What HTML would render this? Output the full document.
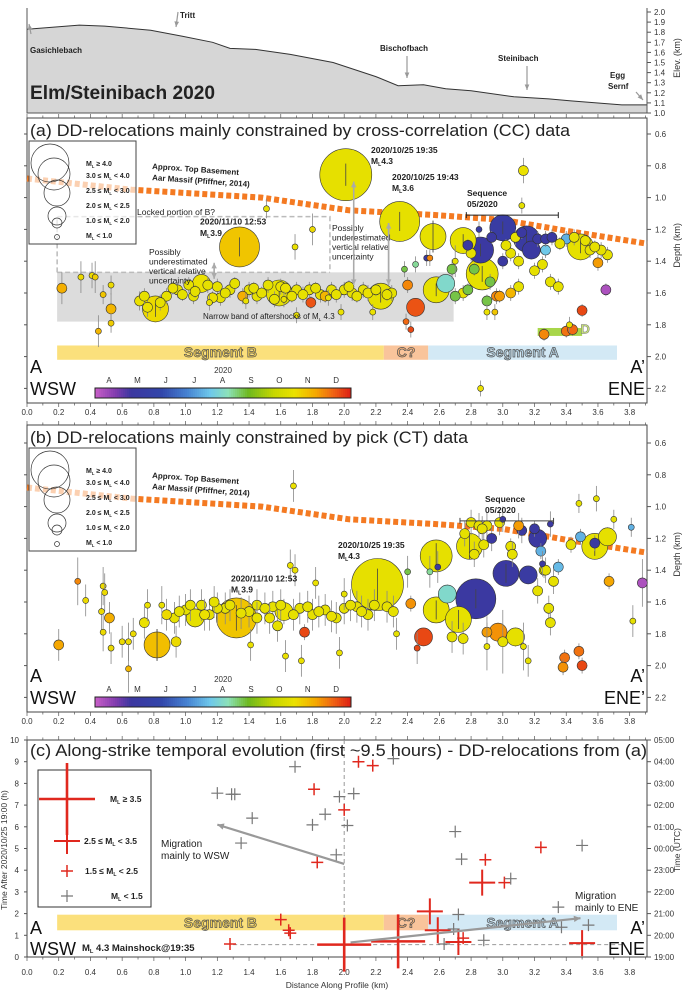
<!DOCTYPE html>
<html><head><meta charset="utf-8"><style>
html,body{margin:0;padding:0;background:#fff;}
svg{display:block;font-family:"Liberation Sans",sans-serif;}
.tk{font-size:8px;fill:#333;}
.lb{font-size:8px;font-weight:bold;fill:#222;}
</style></head><body>
<svg id="fig" width="685" height="991" viewBox="0 0 685 991" xmlns="http://www.w3.org/2000/svg">
<g id="gTop"></g>
<g id="gA"></g>
<g id="gB"></g>
<g id="gC"></g>
</svg>
<script>
// ---------- data ----------
const topoDist = [0.0,0.33,0.49,0.78,0.98,1.17,1.28,1.44,1.66,1.93,2.20,2.34,2.50,2.64,2.80,3.07,3.29,3.43,3.75,3.91];
const topoElev = [1.83,1.87,1.86,1.82,1.76,1.70,1.64,1.63,1.58,1.50,1.36,1.27,1.28,1.24,1.22,1.16,1.14,1.12,1.08,1.08];
const basementDist = [0.0,0.66,1.48,2.03,2.58,3.0,3.41,3.91];
const basementDepth = [0.88,0.95,1.0,1.08,1.11,1.14,1.21,1.29];

const aDist = [2.01,1.34,2.35,2.56,2.58,2.64,2.87,3.00,2.86,3.15,3.18,0.81,1.59,2.23,1.10,3.49,2.75,2.45,1.79,0.22,0.53,3.50,3.65,3.26,3.40,3.44,3.13,3.12,1.51,1.80,1.69,0.34,0.41,0.43,0.45,0.48,0.53,0.53,0.71,0.76,0.88,0.95,1.02,1.20,1.28,1.40,1.45,1.52,1.60,1.70,1.78,1.85,1.92,2.00,2.05,2.12,2.30,1.70,1.98,2.18,1.22,1.05,2.39,2.42,2.40,2.38,2.45,2.52,2.54,2.70,2.85,2.80,2.92,2.96,3.05,3.10,2.95,3.30,3.35,3.25,3.20,3.27,3.40,3.55,3.60,3.45,3.05,3.22,3.27,3.31,2.86,3.42,2.90,2.75,2.70,3.08,3.00,3.10,3.66,3.62,
  0.74,0.84,0.92,0.98,1.06,1.14,1.17,1.25,1.31,1.36,1.43,1.48,1.56,1.63,1.67,1.74,1.82,1.88,1.95,2.03,2.08,2.15,2.20,2.27,1.15,1.38,1.62,1.90,2.78,2.82,2.93,3.02,3.12,2.68,2.78,3.36,3.52,3.58,2.98,2.90];
const aDepth = [0.856,1.31,1.15,1.245,1.58,1.54,1.48,1.19,1.33,1.26,1.33,1.70,1.60,1.62,1.54,1.31,1.27,1.69,1.66,1.57,1.70,1.71,1.58,1.86,1.84,1.83,0.83,1.05,1.07,1.20,1.31,1.50,1.49,1.50,1.84,1.61,1.79,1.55,1.65,1.69,1.62,1.58,1.55,1.56,1.58,1.58,1.62,1.55,1.56,1.58,1.58,1.61,1.58,1.58,1.60,1.58,1.60,1.74,1.72,1.72,1.63,1.62,1.78,1.83,1.55,1.45,1.42,1.38,1.38,1.40,1.20,1.35,1.53,1.62,1.60,1.56,1.72,1.53,1.56,1.42,1.46,1.33,1.26,1.33,1.41,1.25,1.35,1.26,1.26,1.25,2.20,1.80,1.72,1.60,1.62,1.25,1.40,1.40,1.36,1.33,
  1.62,1.66,1.57,1.61,1.59,1.55,1.63,1.60,1.54,1.62,1.57,1.60,1.64,1.57,1.62,1.61,1.57,1.62,1.61,1.56,1.62,1.60,1.58,1.61,1.66,1.65,1.64,1.63,1.30,1.45,1.25,1.30,1.22,1.45,1.58,1.29,1.27,1.31,1.62,1.65];
const aMag = [4.3,3.9,3.6,2.7,2.7,2.2,3.2,2.7,2.7,2.6,2.2,2.7,2.7,2.7,2.3,2.7,2.6,2.2,1.5,1.5,1.5,1.5,1.5,1.5,1.3,1.3,1.3,0.8,0.8,0.8,0.8,0.8,0.8,0.8,0.8,0.8,0.8,0.8,1.2,1.2,1.2,1.2,1.4,1.4,1.4,1.3,1.4,1.2,1.3,1.4,1.2,1.3,1.4,1.2,1.3,1.2,1.4,0.8,0.8,0.8,1.4,1.2,0.8,0.8,1.4,0.8,0.8,0.8,0.8,0.8,0.8,1.3,1.5,1.8,1.5,1.5,0.8,1.3,1.3,1.5,1.4,1.4,1.3,1.4,1.5,1.3,1.3,1.3,1.3,1.2,0.8,0.8,0.8,1.5,1.3,1.5,1.5,1.3,1.3,1.3,
  1.2,1.3,1.2,1.3,1.4,1.2,1.3,1.3,1.2,1.4,1.3,1.2,1.3,1.4,1.2,1.3,1.2,1.3,1.2,1.3,1.4,1.2,1.3,1.2,0.8,0.8,0.8,0.8,1.4,1.4,1.3,1.3,1.4,1.3,1.3,1.4,1.3,1.4,1.4,1.3];
const aMonth = [10.8,11.3,10.8,10.8,10.8,8.2,10.8,5.2,5.0,5.1,5.0,11.0,10.8,10.8,10.9,10.8,10.8,12.5,12.5,11.6,11.5,12.6,3.8,12.0,12.2,12.3,10.9,10.8,10.8,11.0,10.9,11.0,11.0,11.2,11.5,11.3,11.2,11.0,10.9,10.9,10.8,10.8,10.8,10.8,10.8,10.8,10.8,10.8,10.9,10.8,10.8,10.8,10.8,10.8,10.8,10.8,10.8,10.9,10.9,10.9,10.8,10.8,12.3,12.6,12.0,9.0,8.6,5.0,12.0,10.8,5.2,10.8,9.0,12.0,11.5,10.8,11.3,10.8,10.8,10.8,10.8,7.8,7.5,10.8,11.8,10.8,10.8,5.0,5.0,5.0,10.9,10.9,10.9,10.8,9.0,10.8,5.0,10.8,10.8,10.8,
  10.8,10.8,10.9,10.8,10.8,10.8,10.9,10.8,10.8,11.6,10.8,10.8,10.8,10.9,10.8,10.8,10.8,11.5,10.8,10.8,10.8,10.9,10.8,10.8,10.9,10.9,10.9,10.9,5.0,9.0,5.0,10.8,5.0,9.0,9.0,10.8,10.8,10.8,11.8,9.0];
const aErr = [0.07,0.06,0.06,0.1,0.04,0.04,0.05,0.04,0.04,0.04,0.04,0.05,0.04,0.04,0.04,0.04,0.04,0.04,0.04,0.1,0.1,0.04,0.04,0.04,0.04,0.04,0.08,0.05,0.06,0.1,0.08,0.1,0.08,0.1,0.1,0.06,0.06,0.06,0.06,0.06,0.05,0.05,0.05,0.05,0.05,0.05,0.05,0.05,0.05,0.05,0.05,0.05,0.05,0.05,0.05,0.05,0.05,0.05,0.05,0.05,0.05,0.05,0.05,0.05,0.05,0.05,0.05,0.05,0.05,0.1,0.05,0.05,0.05,0.05,0.05,0.05,0.05,0.05,0.05,0.05,0.05,0.05,0.05,0.05,0.05,0.05,0.05,0.05,0.05,0.05,0.05,0.05,0.05,0.05,0.05,0.05,0.05,0.05,0.05,0.05,
  0.05,0.05,0.04,0.04,0.04,0.05,0.04,0.04,0.04,0.05,0.04,0.04,0.05,0.04,0.04,0.05,0.04,0.04,0.05,0.04,0.04,0.05,0.04,0.04,0.05,0.05,0.05,0.05,0.04,0.04,0.04,0.04,0.04,0.06,0.04,0.04,0.04,0.04,0.04,0.04];

const bDist = [2.21,1.32,2.83,3.02,3.16,2.58,2.79,2.58,2.72,3.58,3.22,1.62,0.82,1.06,2.97,3.08,2.50,2.65,3.66,3.49,3.58,3.05,3.20,3.24,3.26,3.35,3.43,0.20,0.52,1.75,2.42,3.39,3.38,3.50,3.48,3.88,3.67,1.68,0.32,0.37,0.48,0.49,0.47,0.48,0.53,0.60,0.64,0.64,0.67,0.74,0.76,0.85,0.93,0.94,1.00,1.10,1.15,1.25,1.40,1.45,1.55,1.58,1.72,1.80,1.88,1.95,2.00,2.08,2.15,2.27,1.66,1.69,1.82,1.63,1.73,1.97,1.41,2.00,2.40,2.33,2.46,2.54,2.59,2.80,2.85,2.90,2.98,3.00,3.12,3.10,2.87,3.30,3.25,3.27,3.32,3.22,3.29,3.30,3.16,3.00,2.90,3.13,3.81,3.82,3.48,3.59,3.70,2.90,2.75,2.68,
  0.96,1.03,1.12,1.20,1.28,1.35,1.50,1.53,1.60,1.68,1.77,1.84,1.92,2.04,2.11,2.19,2.31,0.88,1.18,1.45,2.88,2.93,3.06,2.76,2.82];
const bDepth = [1.49,1.70,1.58,1.42,1.43,1.31,1.25,1.65,1.71,1.25,1.20,1.66,1.87,1.70,1.79,1.82,1.82,1.55,1.19,1.19,1.23,1.25,1.14,1.28,1.40,1.38,1.24,1.87,1.70,1.79,1.61,1.95,2.01,2.00,1.91,1.48,1.47,0.87,1.47,1.59,1.50,1.54,1.66,1.79,1.89,1.85,1.85,2.02,1.80,1.73,1.62,1.62,1.70,1.85,1.65,1.62,1.68,1.64,1.66,1.62,1.63,1.75,1.64,1.68,1.65,1.70,1.64,1.63,1.68,1.63,1.37,1.40,1.48,1.94,1.97,1.92,1.87,1.55,1.41,1.80,1.89,1.41,1.38,1.10,1.12,1.12,1.10,1.08,1.15,1.12,1.14,1.11,1.36,1.40,1.47,1.53,1.64,1.73,1.97,1.85,1.88,1.88,1.13,1.72,0.98,0.95,1.08,1.79,1.83,1.82,
  1.66,1.62,1.68,1.64,1.62,1.67,1.64,1.70,1.62,1.68,1.63,1.66,1.69,1.62,1.66,1.62,1.66,1.68,1.60,1.70,1.24,1.20,1.30,1.17,1.30];
const bMag = [4.3,3.9,3.5,2.8,2.3,3.2,2.7,2.7,2.7,2.7,2.2,2.3,2.7,2.3,2.2,2.2,2.2,2.0,2.2,1.5,1.5,1.5,1.5,1.5,1.5,1.5,1.5,1.5,1.5,1.5,1.5,1.5,1.5,1.5,1.3,1.5,1.5,0.8,0.8,0.8,0.8,0.8,0.8,0.8,0.8,0.8,0.8,0.8,0.8,1.3,0.8,0.8,1.3,1.3,1.3,1.4,1.4,1.3,1.3,1.4,1.3,1.3,1.4,1.3,1.4,1.3,1.4,1.3,1.3,1.4,0.8,0.8,0.8,0.8,0.8,0.8,0.8,0.8,0.8,0.8,0.8,0.8,0.8,1.3,1.3,1.3,1.3,0.8,1.3,1.3,1.3,0.8,0.8,1.3,1.3,1.3,1.3,1.3,0.8,1.3,0.8,0.8,0.8,0.8,0.8,0.8,0.8,1.5,1.3,1.3,
  1.3,1.2,1.3,1.2,1.3,1.2,1.3,1.2,1.3,1.2,1.3,1.2,1.3,1.2,1.3,1.2,1.3,1.3,1.2,1.2,1.4,1.3,1.3,1.3,1.4];
const bMonth = [10.8,11.3,5.0,5.0,5.1,10.8,10.8,10.8,10.8,10.8,5.0,10.9,11.4,10.8,11.9,10.8,12.6,8.2,10.8,7.5,5.0,10.8,5.0,7.5,10.6,7.6,10.8,11.7,11.6,12.6,11.9,12.2,11.9,12.6,12.2,3.8,11.7,10.9,12.0,11.0,11.0,11.0,11.0,11.0,11.0,11.0,11.0,11.5,11.0,10.9,10.9,10.9,10.8,11.0,10.8,10.8,10.8,10.8,10.8,10.8,10.8,10.8,10.8,10.8,10.8,10.8,10.8,10.8,10.8,10.8,10.9,10.9,10.9,10.9,10.9,10.9,10.9,10.8,9.0,10.8,12.6,8.6,5.0,10.8,10.8,10.8,10.8,5.0,5.0,11.8,10.8,5.0,5.0,10.8,10.8,10.8,10.8,10.8,10.8,10.8,10.8,10.8,7.5,10.8,10.8,10.8,10.8,11.8,10.8,10.8,
  10.8,10.8,10.9,10.8,10.8,10.8,10.8,10.9,10.8,10.8,10.8,10.8,10.9,10.8,10.8,10.8,10.8,11.0,10.8,10.8,10.8,5.0,10.8,10.8,10.8];
const bErr = [0.1,0.08,0.06,0.06,0.05,0.08,0.08,0.06,0.06,0.06,0.05,0.08,0.1,0.06,0.06,0.06,0.05,0.06,0.06,0.05,0.05,0.05,0.05,0.05,0.05,0.05,0.05,0.1,0.1,0.05,0.05,0.05,0.05,0.05,0.05,0.15,0.05,0.1,0.15,0.1,0.12,0.12,0.12,0.12,0.1,0.1,0.12,0.15,0.1,0.1,0.1,0.12,0.1,0.1,0.1,0.1,0.1,0.1,0.1,0.1,0.1,0.1,0.1,0.1,0.1,0.1,0.1,0.1,0.1,0.1,0.1,0.1,0.1,0.1,0.1,0.1,0.1,0.1,0.1,0.1,0.1,0.1,0.1,0.08,0.08,0.08,0.08,0.08,0.08,0.08,0.08,0.08,0.08,0.08,0.08,0.08,0.08,0.08,0.1,0.2,0.15,0.15,0.06,0.1,0.06,0.08,0.06,0.1,0.1,0.1,
  0.1,0.1,0.1,0.1,0.1,0.1,0.1,0.1,0.1,0.1,0.1,0.1,0.1,0.1,0.1,0.1,0.1,0.1,0.1,0.1,0.08,0.08,0.08,0.08,0.08];

const cDist = [2.00,2.34,3.50,2.54,2.59,2.87,2.72,2.75,1.28,1.60,1.65,1.66,1.83,1.81,2.00,2.09,2.18,2.89,3.01,3.24,1.69,1.20,1.29,1.31,1.42,1.35,1.80,1.88,1.97,2.06,2.02,1.95,2.31,2.70,2.74,3.05,3.35,2.72,2.69,2.63,2.88,3.37,3.54,3.50];
const cTime = [0.57,0.72,0.64,2.10,1.23,3.43,0.69,0.87,0.60,1.72,1.23,1.10,4.36,7.73,6.78,9.00,8.82,4.48,3.43,5.05,8.77,7.55,7.50,7.50,6.40,5.25,6.09,6.58,7.39,7.53,6.06,4.71,9.14,5.78,4.51,3.61,2.30,1.96,1.29,0.60,0.77,1.37,1.47,5.14];
const cMag = [4.3,3.6,2.8,2.9,2.7,2.8,2.6,1.8,1.8,1.7,1.9,1.6,1.7,1.8,1.9,1.6,1.7,1.8,1.6,1.7,1.0,1.0,1.0,1.0,1.0,1.0,1.0,1.0,1.0,1.0,1.0,1.0,1.0,1.0,1.0,1.0,1.0,1.0,1.0,1.0,1.0,1.0,1.0,1.0];

const xTicks = [0.0,0.2,0.4,0.6,0.8,1.0,1.2,1.4,1.6,1.8,2.0,2.2,2.4,2.6,2.8,3.0,3.2,3.4,3.6,3.8];
const depthTicks = [0.6,0.8,1.0,1.2,1.4,1.6,1.8,2.0,2.2];
const elevTicks = [1.0,1.1,1.2,1.3,1.4,1.5,1.6,1.7,1.8,1.9,2.0];
const hourTicks = [0,1,2,3,4,5,6,7,8,9,10];
const utcLabels = ["19:00","20:00","21:00","22:00","23:00","00:00","01:00","02:00","03:00","04:00","05:00"];
const monthLabels = ["A","M","J","J","A","S","O","N","D"];

// ---------- scales ----------
const NS = "http://www.w3.org/2000/svg";
const X0 = 27, XS = 158.6, XR = 647;
const X = d => X0 + d * XS;
const Ytop = e => 12 + (2.0 - e) * 101;
const Ya = z => 134 + (z - 0.6) * 159;
const Yb = z => 443 + (z - 0.6) * 159;
const Yc = t => 957 - t * 21.7;

function mk(tag, parent, attrs, text) {
  const e = document.createElementNS(NS, tag);
  for (const k in attrs) e.setAttribute(k, attrs[k]);
  if (text !== undefined) e.textContent = text;
  parent.appendChild(e);
  return e;
}
function cmap(m) {
  const t = Math.max(0, Math.min(1, (m - 3.5) / 9.5));
  const st = [[0,[200,95,200]],[0.08,[130,60,175]],[0.14,[60,55,160]],[0.26,[50,70,170]],[0.36,[70,130,210]],[0.45,[110,200,235]],[0.52,[140,225,185]],[0.6,[110,185,30]],[0.7,[200,215,0]],[0.78,[235,225,0]],[0.86,[245,170,0]],[0.93,[240,100,20]],[1,[220,30,20]]];
  for (let i = 1; i < st.length; i++) {
    if (t <= st[i][0]) {
      const f = (t - st[i-1][0]) / (st[i][0] - st[i-1][0]);
      const c = st[i-1][1].map((v, j) => Math.round(v + f * (st[i][1][j] - v)));
      return "rgb(" + c.join(",") + ")";
    }
  }
  return "rgb(220,30,20)";
}
function radius(m) {
  if (m >= 4) return 26; if (m >= 3.5) return 20; if (m >= 3) return 16;
  if (m >= 2.5) return 13; if (m >= 2) return 9; if (m >= 1) return 5; return 3;
}
function ml(parent, x, y, pre, post, size, anchor, bold) {
  const t = mk("text", parent, {x: x, y: y, "font-size": size, "font-weight": bold === false ? "normal" : "bold", fill: "#222", "text-anchor": anchor || "start"});
  
  
  if (pre) mk("tspan", t, {}, pre);
  mk("tspan", t, {}, "M");
  mk("tspan", t, {"font-size": size * 0.6, dy: 2}, "L");
  mk("tspan", t, {dy: -2}, post);
  return t;
}

// ---------- top panel ----------
const gT = document.getElementById("gTop");
{
  let d = "M" + X(topoDist[0]) + "," + Ytop(1.0);
  topoDist.forEach((v, i) => { d += " L" + X(v).toFixed(1) + "," + Ytop(topoElev[i]).toFixed(1); });
  d += " L" + X(topoDist[topoDist.length-1]) + "," + Ytop(1.0) + " Z";
  const area = mk("path", gT, {d: d, fill: "#d6d6d6", stroke: "none"});
  
  
  let l = "";
  topoDist.forEach((v, i) => { l += (i ? " L" : "M") + X(v).toFixed(1) + "," + Ytop(topoElev[i]).toFixed(1); });
  const line = mk("path", gT, {d: l, fill: "none", stroke: "#333", "stroke-width": 1});
  
  
  const ax = mk("path", gT, {d: "M27,8 V113 H647 V8", fill: "none", stroke: "#555", "stroke-width": 1});
  
  
  elevTicks.forEach(e => {
    const tk = mk("line", gT, {x1: 647, x2: 651, y1: Ytop(e), y2: Ytop(e), stroke: "#555"});
    
    
    const tl = mk("text", gT, {x: 654, y: Ytop(e) + 3, "class": "tk", "font-size": 7}, e.toFixed(1));
    
    
  });
  const yt = mk("text", gT, {x: 680, y: 58, "font-size": 9, fill: "#333", transform: "rotate(-90 680 58)", "text-anchor": "middle"}, "Elev. (km)");
  
  
  const ttl = mk("text", gT, {x: 30, y: 99, "font-size": 19, "font-weight": "bold", fill: "#222", textLength: 185, lengthAdjust: "spacingAndGlyphs"}, "Elm/Steinibach 2020");
  
  
  const places = [["Gasichlebach",30,53,31,34,29,24],["Tritt",180,18,178,12,176,27],["Bischofbach",380,51,407,56,407,78],["Steinibach",498,61,527,66,527,90],["Egg",610,78,0,0,0,0],["Sernf",608,89,636,92,643,100]];
  places.forEach(p => {
    const t = mk("text", gT, {x: p[1], y: p[2], "class": "lb", "font-size": 7.5}, p[0]);
    
    
    if (p[3]) {
      const a = mk("line", gT, {x1: p[3], y1: p[4], x2: p[5], y2: p[6], stroke: "#999", "stroke-width": 1.2});
      
      
      const ang = Math.atan2(p[6]-p[4], p[5]-p[3]);
      const h = mk("path", gT, {d: "M" + p[5] + "," + p[6] + " l" + (-6*Math.cos(ang-0.4)) + "," + (-6*Math.sin(ang-0.4)) + " l" + (6*Math.cos(ang-0.4)-6*Math.cos(ang+0.4)) + "," + (6*Math.sin(ang-0.4)-6*Math.sin(ang+0.4)) + "Z", fill: "#999"});
      
      
    }
  });
}

// ---------- depth panels ----------
function xAxisTicks(g, yTop, yBot, labelY) {
  for (let i = 0; i <= 39; i++) {
    const d = i / 10;
    const len = i % 2 === 0 ? 4 : 2.5;
    const t1 = mk("line", g, {x1: X(d), x2: X(d), y1: yBot, y2: yBot + len, stroke: "#555", "stroke-width": 0.7});
    
    
    const t2 = mk("line", g, {x1: X(d), x2: X(d), y1: yTop, y2: yTop - len, stroke: "#555", "stroke-width": 0.7});
    
    
  }
  xTicks.forEach(d => {
    const tl = mk("text", g, {x: X(d), y: labelY, "class": "tk", "text-anchor": "middle"}, d.toFixed(1));
    
    
  });
}
function depthPanel(g, Y, top, bot, cfg) {
  const fr = mk("rect", g, {x: X0, y: top, width: XR - X0, height: bot - top, fill: "#fff", stroke: "#444", "stroke-width": 1});
  
  
  xAxisTicks(g, top, bot, bot + 12);
  depthTicks.forEach(z => {
    const tk = mk("line", g, {x1: XR, x2: XR + 4, y1: Y(z), y2: Y(z), stroke: "#555"});
    
    
    const tk2 = mk("line", g, {x1: X0, x2: X0 - 3, y1: Y(z), y2: Y(z), stroke: "#555"});
    
    
    const tl = mk("text", g, {x: 655, y: Y(z) + 3, "class": "tk"}, z.toFixed(1));
    
    
  });
  const yt = mk("text", g, {x: 680, y: Y(1.3), "font-size": 9, fill: "#333", transform: "rotate(-90 680 " + Y(1.3) + ")", "text-anchor": "middle"}, "Depth (km)");
  
  
  const ti = mk("text", g, {x: 30, y: top + 18, "font-size": 17, fill: "#222", textLength: cfg.titleLen, lengthAdjust: "spacingAndGlyphs"}, cfg.title);
  
  
  cfg.under && cfg.under(g, Y);
  // basement line
  let bl = "";
  basementDist.forEach((d, i) => { bl += (i ? " L" : "M") + X(d).toFixed(1) + "," + Y(basementDepth[i]).toFixed(1); });
  const bp = mk("path", g, {d: bl, fill: "none", stroke: "#f47a22", "stroke-width": 6, "stroke-dasharray": "5 3"});
  
  
  const bt1 = mk("text", g, {x: 152, y: Y(0.82), "class": "lb", "font-size": 8.5, transform: "rotate(4 152 " + Y(0.82) + ")"}, "Approx. Top Basement");
  
  
  const bt2 = mk("text", g, {x: 152, y: Y(0.89), "class": "lb", "font-size": 8.5, transform: "rotate(4 152 " + Y(0.89) + ")"}, "Aar Massif (Pfiffner, 2014)");
  
  
  // events
  const idx = cfg.dist.map((_, i) => i).sort((a, b) => radius(cfg.mag[b]) - radius(cfg.mag[a]));
  idx.forEach(i => {
    const cx = X(cfg.dist[i]), cy = Y(cfg.depth[i]);
    const e = cfg.err[i] * 159;
    const eb = mk("line", g, {x1: cx, x2: cx, y1: cy - e, y2: cy + e, stroke: "#888", "stroke-width": 0.8});
    
    
    const c = mk("circle", g, {cx: cx, cy: cy, r: radius(cfg.mag[i]), fill: cmap(cfg.month[i]), stroke: "#333", "stroke-width": 0.6});
    
    
    if (radius(cfg.mag[i]) >= 13) {
      const eb2 = mk("line", g, {x1: cx, x2: cx, y1: cy - e, y2: cy + e, stroke: "#444", "stroke-width": 0.8});
      
      
    }
  });
  // legend
  const lg = mk("g", g, {});
  
  
  const ly = top + 23;
  const lr = mk("rect", lg, {x: 29, y: ly, width: 107, height: 103, fill: "rgba(255,255,255,0.65)", stroke: "#444", "stroke-width": 1});
  
  
  const lc = [[50,22,19],[54,33,16],[57,52,13],[57,75,9],[57,82,5],[57,96,2.5]];
  lc.forEach(c => {
    const cc = mk("circle", lg, {cx: c[0], cy: ly + c[1], r: c[2], fill: "none", stroke: "#333", "stroke-width": 0.7});
    
    
  });
  const labs = [["","  ≥ 4.0",25],["3.0 ≤ ","  < 4.0",37],["2.5 ≤ ","  < 3.0",52],["2.0 ≤ ","  < 2.5",67],["1.0 ≤ ","  < 2.0",82],["","  < 1.0",97]];
  labs.forEach(l => ml(lg, 86, ly + l[2], l[0], l[1], 7));
  [["A", 30, bot - 30, "start"], ["WSW", 30, bot - 8, "start"], ["A’", 645, bot - 30, "end"], [cfg.ene, 645, bot - 8, "end"]].forEach(t => {
    const tt = mk("text", g, {x: t[1], y: t[2], "font-size": 18, fill: "#111", "text-anchor": t[3]}, t[0]);
    
    
  });
  // colorbar
  const cb = mk("g", g, {});
  
  
  const cbY = bot - 15;
  for (let i = 0; i < 128; i++) {
    const m = 3.5 + 9.5 * (i + 0.5) / 128;
    const r = mk("rect", cb, {x: 95 + i * 2, y: cbY, width: 2.1, height: 10, fill: cmap(m)});
    
    
  }
  const cbr = mk("rect", cb, {x: 95, y: cbY, width: 256, height: 10, fill: "none", stroke: "#222", "stroke-width": 1});
  
  
  monthLabels.forEach((m, i) => {
    const t = mk("text", cb, {x: 109 + i * 28.4, y: cbY - 5, "class": "tk", "text-anchor": "middle"}, m);
    
    
  });
  const yr = mk("text", cb, {x: 223, y: cbY - 15, "class": "tk", "font-size": 8.5, "text-anchor": "middle"}, "2020");
  
  
  cfg.over && cfg.over(g, Y);
}

function txt(g, x, y, s, size, bold, name, extra) {
  const a = {x: x, y: y, "font-size": size, fill: "#222"};
  if (bold) a["font-weight"] = "bold";
  if (extra) Object.assign(a, extra);
  const t = mk("text", g, a, s);
  
  
  return t;
}
function arrow(g, x1, y1, x2, y2, w, col, name) {
  const l = mk("line", g, {x1: x1, y1: y1, x2: x2, y2: y2, stroke: col, "stroke-width": w});
  
  
  const ang = Math.atan2(y2 - y1, x2 - x1), s = 4 + w * 1.5;
  const h = mk("path", g, {d: "M" + x2 + "," + y2 + " L" + (x2 - s*Math.cos(ang-0.45)) + "," + (y2 - s*Math.sin(ang-0.45)) + " L" + (x2 - s*Math.cos(ang+0.45)) + "," + (y2 - s*Math.sin(ang+0.45)) + "Z", fill: col});
  
  
}
function segBars(g, y, h) {
  const segs = [[0.19, 2.25, "#fbe07c", "Segment B", "#efcc50"], [2.25, 2.53, "#f9c49b", "C?", "#f1ad74"], [2.53, 3.72, "#d3e9f5", "Segment A", "#b4d2e4"]];
  segs.forEach(s => {
    const r = mk("rect", g, {x: X(s[0]), y: y, width: X(s[1]) - X(s[0]), height: h, fill: s[2]});
    
    
    const t = mk("text", g, {x: (X(s[0]) + X(s[1])) / 2, y: y + h - 3, "font-size": 14, "font-weight": "bold", fill: s[4], stroke: "#555", "stroke-width": 0.7, "text-anchor": "middle"}, s[3]);
    
    
  });
}

const gA = document.getElementById("gA");
depthPanel(gA, Ya, 118, 403, {
  title: "(a) DD-relocations mainly constrained by cross-correlation (CC) data", titleLen: 540, ene: "ENE",
  dist: aDist, depth: aDepth, mag: aMag, month: aMonth, err: aErr,
  under: (g, Y) => {
    const gb = mk("rect", g, {x: X(0.19), y: Y(1.47), width: X(2.69) - X(0.19), height: Y(1.78) - Y(1.47), fill: "#dcdcdc"});
    
    
    const db = mk("path", g, {d: "M" + X(0.19) + "," + Y(1.47) + " V" + Y(1.12) + " H" + X(1.91) + " V" + Y(1.47), fill: "none", stroke: "#bbb", "stroke-width": 1.5, "stroke-dasharray": "5 3"});
    
    
    const db2 = mk("line", g, {x1: X(0.19), x2: X(1.91), y1: Y(1.47), y2: Y(1.47), stroke: "#bbb", "stroke-width": 1.5, "stroke-dasharray": "5 3"});
    
    
    const dd = mk("rect", g, {x: X(3.22), y: Y(1.82), width: X(3.5) - X(3.22), height: Y(1.87) - Y(1.82), fill: "#a8d64a"});
    
    
    segBars(g, Y(1.93), Y(2.02) - Y(1.93));
  },
  over: (g, Y) => {
    ml(g, X(1.11), Y(1.765), "Narrow band of aftershocks of ", " 4.3", 8, "start", false);
    txt(g, 137, Y(1.11), "Locked portion of B?", 8.5, false, "locked-label");
    txt(g, 149, Y(1.36), "Possibly", 8.5, false, "uncertainty-note");
    txt(g, 149, Y(1.42), "underestimated", 8.5, false, "uncertainty-note");
    txt(g, 149, Y(1.48), "vertical relative", 8.5, false, "uncertainty-note");
    txt(g, 149, Y(1.54), "uncertainty", 8.5, false, "uncertainty-note");
    txt(g, 332, Y(1.21), "Possibly", 8.5, false, "uncertainty-note");
    txt(g, 332, Y(1.27), "underestimated", 8.5, false, "uncertainty-note");
    txt(g, 332, Y(1.33), "vertical relative", 8.5, false, "uncertainty-note");
    txt(g, 332, Y(1.39), "uncertainty", 8.5, false, "uncertainty-note");
    arrow(g, X(1.18), Y(1.42), X(1.18), Y(1.51), 1.5, "#aaa", "uncertainty-arrow");
    arrow(g, X(1.18), Y(1.51), X(1.18), Y(1.41), 1.5, "#aaa", "uncertainty-arrow");
    arrow(g, X(2.06), Y(1.55), X(2.06), Y(0.9), 1.5, "#aaa", "uncertainty-arrow");
    arrow(g, X(2.06), Y(0.9), X(2.06), Y(1.55), 1.5, "#aaa", "uncertainty-arrow");
    arrow(g, X(2.28), Y(1.55), X(2.28), Y(1.16), 1.5, "#aaa", "uncertainty-arrow");
    arrow(g, X(2.28), Y(1.16), X(2.28), Y(1.55), 1.5, "#aaa", "uncertainty-arrow");
    txt(g, 371, Y(0.72), "2020/10/25 19:35", 8.5, true, "mainshock-label");
    ml(g, 371, Y(0.79), "", "4.3", 8.5);
    txt(g, 392, Y(0.89), "2020/10/25 19:43", 8.5, true, "event-label");
    ml(g, 392, Y(0.96), "", "3.6", 8.5);
    txt(g, 200, Y(1.17), "2020/11/10 12:53", 8.5, true, "event-label");
    ml(g, 200, Y(1.24), "", "3.9", 8.5);
    txt(g, 467, Y(0.99), "Sequence", 8.5, true, "sequence-label");
    txt(g, 467, Y(1.06), "05/2020", 8.5, true, "sequence-label");
    const sl = mk("path", g, {d: "M" + X(2.77) + "," + (Y(1.11)-3) + " v6 M" + X(2.77) + "," + Y(1.11) + " H" + X(3.35) + " M" + X(3.35) + "," + (Y(1.11)-3) + " v6", stroke: "#222", "stroke-width": 1, fill: "none"});
    
    
    txt(g, X(3.49), Y(1.855), "D", 13, true, "segment-d-label", {fill: "#c8e27a", stroke: "#777", "stroke-width": 0.5});
  }
});

const gB = document.getElementById("gB");
depthPanel(gB, Yb, 425, 712, {
  title: "(b) DD-relocations mainly constrained by pick (CT) data", titleLen: 438, ene: "ENE’",
  dist: bDist, depth: bDepth, mag: bMag, month: bMonth, err: bErr,
  over: (g, Y) => {
    txt(g, 338, Y(1.26), "2020/10/25 19:35", 8.5, true, "mainshock-label");
    ml(g, 338, Y(1.33), "", "4.3", 8.5);
    txt(g, 231, Y(1.47), "2020/11/10 12:53", 8.5, true, "event-label");
    ml(g, 231, Y(1.54), "", "3.9", 8.5);
    txt(g, 485, Y(0.97), "Sequence", 8.5, true, "sequence-label");
    txt(g, 485, Y(1.04), "05/2020", 8.5, true, "sequence-label");
    const sl = mk("path", g, {d: "M" + X(2.73) + "," + (Y(1.09)-3) + " v6 M" + X(2.73) + "," + Y(1.09) + " H" + X(3.32) + " M" + X(3.32) + "," + (Y(1.09)-3) + " v6", stroke: "#444", "stroke-width": 1, fill: "none"});
    
    
  }
});

// ---------- panel c ----------
const gC = document.getElementById("gC");
{
  const top = 740, bot = 957;
  const fr = mk("rect", gC, {x: X0, y: top, width: XR - X0, height: bot - top, fill: "#fff", stroke: "#444", "stroke-width": 1});
  
  
  xAxisTicks(gC, top, bot, 975);
  hourTicks.forEach((h, i) => {
    const t1 = mk("line", gC, {x1: X0 - 3, x2: X0, y1: Yc(h), y2: Yc(h), stroke: "#555"});
    
    
    const tl = mk("text", gC, {x: 19, y: Yc(h) + 3, "class": "tk", "text-anchor": "end"}, String(h));
    
    
    const t2 = mk("line", gC, {x1: XR, x2: XR + 4, y1: Yc(h), y2: Yc(h), stroke: "#555"});
    
    
    const tr = mk("text", gC, {x: 654, y: Yc(h) + 3, "class": "tk", "font-size": 7}, utcLabels[i]);
    
    
  });
  txt(gC, 7, 850, "Time After 2020/10/25 19:00 (h)", 8.5, false, "y-axis-title", {transform: "rotate(-90 7 850)", "text-anchor": "middle", fill: "#333"});
  txt(gC, 680, 850, "Time (UTC)", 8.5, false, "y-axis-title-right", {transform: "rotate(-90 680 850)", "text-anchor": "middle", fill: "#333"});
  txt(gC, 337, 988, "Distance Along Profile (km)", 8.5, false, "x-axis-title", {"text-anchor": "middle", fill: "#333"});
  segBars(gC, Yc(1.95), Yc(1.23) - Yc(1.95));
  const vl = mk("line", gC, {x1: X(2.0), x2: X(2.0), y1: top, y2: bot, stroke: "#999", "stroke-width": 1, "stroke-dasharray": "4 3"});
  
  
  const hl = mk("line", gC, {x1: X(1.3), x2: XR - 25, y1: Yc(0.57), y2: Yc(0.57), stroke: "#999", "stroke-width": 1, "stroke-dasharray": "4 3"});
  
  
  txt(gC, 30, 756, "(c) Along-strike temporal evolution (first ~9.5 hours) - DD-relocations from (a)", 17, false, "panel-title", {textLength: 617, lengthAdjust: "spacingAndGlyphs"});
  cDist.forEach((d, i) => {
    const m = cMag[i];
    let s, w, col;
    if (m >= 3.5) { s = 27; w = 2.6; col = "#e0281e"; }
    else if (m >= 2.5) { s = 13; w = 2; col = "#e0281e"; }
    else if (m >= 1.5) { s = 6; w = 1.5; col = "#e0281e"; }
    else { s = 6; w = 1.2; col = "#777"; }
    const cx = X(d), cy = Yc(cTime[i]);
    const p = mk("path", gC, {d: "M" + (cx - s) + "," + cy + " H" + (cx + s) + " M" + cx + "," + (cy - s) + " V" + (cy + s), stroke: col, "stroke-width": w, fill: "none"});
    
    
  });
  arrow(gC, X(2.0), Yc(4.29), X(1.2), Yc(6.1), 2.2, "#999", "migration-arrow-wsw");
  arrow(gC, X(2.04), Yc(0.67), X(3.49), Yc(1.79), 2.2, "#999", "migration-arrow-ene");
  txt(gC, 161, 847, "Migration", 10, false, "migration-label");
  txt(gC, 161, 859, "mainly to WSW", 10, false, "migration-label");
  txt(gC, 575, 899, "Migration", 10, false, "migration-label");
  txt(gC, 575, 911, "mainly to ENE", 10, false, "migration-label");
  ml(gC, 82, 951, "", " 4.3 Mainshock@19:35", 9.5);
  [["A", 30, 934, "start"], ["WSW", 30, 955, "start"], ["A’", 645, 934, "end"], ["ENE", 645, 955, "end"]].forEach(t => {
    const tt = mk("text", gC, {x: t[1], y: t[2], "font-size": 18, fill: "#111", "text-anchor": t[3]}, t[0]);
    
    
  });
  const lg = mk("g", gC, {});
  
  
  const lr = mk("rect", lg, {x: 38, y: 770, width: 113, height: 137, fill: "#fff", stroke: "#333", "stroke-width": 1});
  
  
  const ents = [[67, 799, 27, 2.6, "#e0281e", "", " ≥ 3.5", 110], [67, 841, 13, 2, "#e0281e", "2.5 ≤ ", " < 3.5", 84], [67, 871, 6, 1.5, "#e0281e", "1.5 ≤ ", " < 2.5", 85], [67, 896, 6, 1.2, "#777", "", " < 1.5", 111]];
  ents.forEach(e => {
    const s = e[2];
    const horiz = e[2] === 27 ? 28 : s;
    const p = mk("path", lg, {d: "M" + (e[0] - horiz) + "," + e[1] + " H" + (e[0] + horiz) + " M" + e[0] + "," + (e[1] - s - (s === 27 ? 9 : 0)) + " V" + (e[1] + s + (s === 27 ? 9 : 0)), stroke: e[4], "stroke-width": e[3], fill: "none"});
    
    
    ml(lg, e[7], e[1] + 3, e[5], e[6], 8.5);
  });
}
</script>
</body></html>
